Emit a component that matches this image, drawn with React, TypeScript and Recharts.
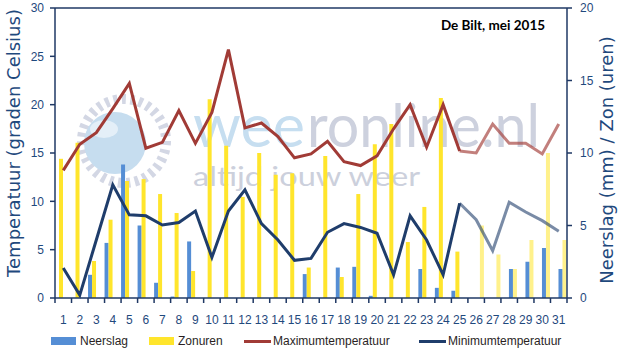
import { ComposedChart, Bar, Line, XAxis, YAxis, Legend, ReferenceLine } from 'recharts';

// De Bilt, mei 2015 — days 26-31 are the forecast (lighter colours)
const days = ['1', '2', '3', '4', '5', '6', '7', '8', '9', '10', '11', '12', '13', '14', '15', '16',
  '17', '18', '19', '20', '21', '22', '23', '24', '25', '26', '27', '28', '29', '30', '31'];

const neerslag = [null, null, 1.6, 3.8, 9.2, 5.0, 1.05, 0.1, 3.9, null, null, null, null, null, null, 1.65,
  null, 2.1, 2.15, 0.15, null, null, 2.0, 0.7, 0.5, null, null, null, null, null, null];
const zonuren = [9.6, 10.7, 2.55, 5.4, 8.07, 8.2, 7.17, 5.86, 1.86, 13.7, 10.5, 6.97, 10.0, 8.5, 8.6, 2.1,
  9.8, 1.45, 7.17, 10.6, 12.0, 3.86, 6.28, 13.8, 3.2, null, null, null, null, null, null];
const neerslagVerw = [null, null, null, null, null, null, null, null, null, null, null, null, null, null, null, null,
  null, null, null, null, null, null, null, null, null, null, null, 2.0, 2.5, 3.45, 2.0];
const zonurenVerw = [null, null, null, null, null, null, null, null, null, null, null, null, null, null, null, null,
  null, null, null, null, null, null, null, null, null, 5.0, 3.0, 2.0, 4.0, 10.0, 4.0];

const maxTemp = [13.2, 15.9, 17.1, 19.6, 22.2, 15.5, 16.1, 19.4, 16.0, 19.2, 25.7, 17.6, 18.1, 16.7, 14.5, 14.9,
  16.2, 14.1, 13.7, 14.7, 17.5, 20.0, 15.6, 20.0, 15.2, null, null, null, null, null, null];
const maxTempVerw = [null, null, null, null, null, null, null, null, null, null, null, null, null, null, null, null,
  null, null, null, null, null, null, null, null, 15.2, 15.0, 18.0, 16.0, 16.0, 14.9, 18.0];
const minTemp = [3.1, 0.3, 6.0, 11.7, 8.6, 8.5, 7.55, 7.8, 9.0, 4.2, 9.0, 11.2, 7.7, 6.0, 3.9, 4.1,
  6.8, 7.7, 7.3, 6.7, 2.4, 8.5, 6.0, 2.4, 9.8, null, null, null, null, null, null];
const minTempVerw = [null, null, null, null, null, null, null, null, null, null, null, null, null, null, null, null,
  null, null, null, null, null, null, null, null, 9.8, 8.1, 4.9, 9.9, 8.9, 8.0, 6.9];

const tempTicks = [0, 5, 10, 15, 20, 25, 30];
const mmTicks = [0, 5, 10, 15, 20];

const data = days.map((d, i) => ({
  day: d,
  neerslag: neerslag[i],
  zonuren: zonuren[i],
  neerslagVerw: neerslagVerw[i],
  zonurenVerw: zonurenVerw[i],
  maxTemp: maxTemp[i],
  maxTempVerw: maxTempVerw[i],
  minTemp: minTemp[i],
  minTempVerw: minTempVerw[i],
}));

const NAVY = '#1F3864';
const TEXT_BLUE = '#1F497D';
const BLUE = '#558ED5';
const YELLOW = '#FFE52C';
const RED = '#A13B36';
const DARK = '#1F3D6B';

const tickFont = { fontFamily: '"Liberation Sans", Arial, sans-serif', fontSize: 12, fill: TEXT_BLUE };

const XTick = (props: any) => {
  const { x, y, payload, index, width, visibleTicksCount } = props;
  const bw = (width || 512) / (visibleTicksCount || 31);
  return (
    <g>
      <line x1={x - bw / 2} x2={x - bw / 2} y1={y} y2={y + 5} stroke={NAVY} strokeWidth={1.5} />
      {index === days.length - 1 && (
        <line x1={x + bw / 2} x2={x + bw / 2} y1={y} y2={y + 5} stroke={NAVY} strokeWidth={1.5} />
      )}
      <text x={x} y={y + 26} textAnchor="middle" {...tickFont}>{payload.value}</text>
    </g>
  );
};

const legendItems = [
  { label: 'Neerslag', color: BLUE, kind: 'rect', left: 51 },
  { label: 'Zonuren', color: YELLOW, kind: 'rect', left: 149 },
  { label: 'Maximumtemperatuur', color: RED, kind: 'line', left: 244 },
  { label: 'Minimumtemperatuur', color: DARK, kind: 'line', left: 419 },
];

const LegendContent = () => (
  <div style={{ position: 'relative', width: 625, height: 22 }}>
    {legendItems.map((it) => (
      <div
        key={it.label}
        style={{
          position: 'absolute', left: it.left, top: 0, height: 22, display: 'flex', alignItems: 'center',
          fontFamily: '"Liberation Sans", Arial, sans-serif', fontSize: 12, color: '#2a1f1f', whiteSpace: 'nowrap',
        }}
      >
        {it.kind === 'rect'
          ? <span style={{ display: 'inline-block', width: 25, height: 8, background: it.color, marginRight: 4 }} />
          : <span style={{ display: 'inline-block', width: 27, height: 3, background: it.color, marginRight: 2 }} />}
        {it.label}
      </div>
    ))}
  </div>
);

// background logo of weeronline.nl
const Watermark = () => (
  <svg width={625} height={360} style={{ position: 'absolute', left: 0, top: 0 }}>
    <circle cx={124} cy={141} r={42} fill="none" stroke="#d3d7e4" strokeWidth={10} strokeDasharray="4 4.5" />
    <circle cx={115} cy={143} r={31} fill="#c6ddef" />
    <ellipse cx={104} cy={129} rx={14} ry={9} fill="#e4eff8" />
    <text x={193} y={147} fontFamily="Lato, sans-serif" fontSize={60} fill="#c6def0" textLength={112}
      lengthAdjust="spacingAndGlyphs">wee</text>
    <text x={307} y={147} fontFamily="Lato, sans-serif" fontSize={60} fill="#cdd1de" textLength={233}
      lengthAdjust="spacingAndGlyphs">ronline.nl</text>
    <text x={193} y={186} fontFamily="Lato, sans-serif" fontSize={26} fill="#ccd0dc" textLength={227}
      lengthAdjust="spacingAndGlyphs">altijd jouw weer</text>
    <text x={493} y={30} textAnchor="middle" fontFamily="Lato, sans-serif" fontWeight="bold" fontSize={13.5}
      fill="#000">De Bilt, mei 2015</text>
  </svg>
);

const axisTitle = { fontFamily: '"DejaVu Sans", Verdana, sans-serif', fontSize: 18, fill: TEXT_BLUE };

export default function App() {
  return (
    <div style={{ position: 'absolute', left: 0, top: 0, width: 625, height: 360, background: '#fff' }}>
      <Watermark />
      <ComposedChart
        width={625}
        height={360}
        data={data}
        margin={{ top: 8, right: 0, left: 0, bottom: 8 }}
        barCategoryGap={0}
        barGap={0}
      >
        <XAxis
          dataKey="day"
          height={32}
          tickLine={false}
          tickSize={0}
          tickMargin={0}
          interval={0}
          axisLine={{ stroke: NAVY, strokeWidth: 1.5 }}
          tick={<XTick />}
        />
        <YAxis
          yAxisId="left"
          width={55}
          domain={[0, 30]}
          ticks={tempTicks}
          tickSize={5}
          tickMargin={6}
          tick={tickFont}
          axisLine={{ stroke: NAVY, strokeWidth: 1.5 }}
          tickLine={{ stroke: NAVY, strokeWidth: 1.5 }}
          label={{
            content: () => (
              <text x={20} y={143} textAnchor="middle" transform="rotate(-90 20 143)" {...axisTitle}>
                Temperatuur (graden Celsius)
              </text>
            ),
          }}
        />
        <YAxis
          yAxisId="right"
          orientation="right"
          width={58}
          domain={[0, 20]}
          ticks={mmTicks}
          tickSize={5}
          tickMargin={8}
          tick={tickFont}
          axisLine={{ stroke: NAVY, strokeWidth: 1.5 }}
          tickLine={{ stroke: NAVY, strokeWidth: 1.5 }}
          label={{
            content: () => (
              <text x={613} y={160} textAnchor="middle" transform="rotate(-90 613 160)" {...axisTitle}>
                Neerslag (mm) / Zon (uren)
              </text>
            ),
          }}
        />
        <ReferenceLine yAxisId="left" y={30} stroke={NAVY} strokeWidth={1.5} />
        <Legend
          verticalAlign="bottom"
          height={22}
          wrapperStyle={{ left: 0, width: 625, height: 22 }}
          content={<LegendContent />}
        />
        <Bar yAxisId="right" dataKey="neerslag" name="Neerslag" fill={BLUE} isAnimationActive={false} />
        <Bar yAxisId="right" dataKey="zonuren" name="Zonuren" fill={YELLOW} isAnimationActive={false} />
        <Bar yAxisId="right" dataKey="neerslagVerw" legendType="none" fill={BLUE} isAnimationActive={false} />
        <Bar yAxisId="right" dataKey="zonurenVerw" legendType="none" fill={YELLOW} fillOpacity={0.55}
          isAnimationActive={false} />
        <Line yAxisId="left" dataKey="maxTemp" name="Maximumtemperatuur" stroke={RED} strokeWidth={3}
          dot={false} isAnimationActive={false} />
        <Line yAxisId="left" dataKey="maxTempVerw" legendType="none" stroke={RED} strokeOpacity={0.65}
          strokeWidth={3} dot={false} isAnimationActive={false} />
        <Line yAxisId="left" dataKey="minTemp" name="Minimumtemperatuur" stroke={DARK} strokeWidth={3}
          dot={false} isAnimationActive={false} />
        <Line yAxisId="left" dataKey="minTempVerw" legendType="none" stroke={DARK} strokeOpacity={0.6}
          strokeWidth={3} dot={false} isAnimationActive={false} />
      </ComposedChart>
    </div>
  );
}
